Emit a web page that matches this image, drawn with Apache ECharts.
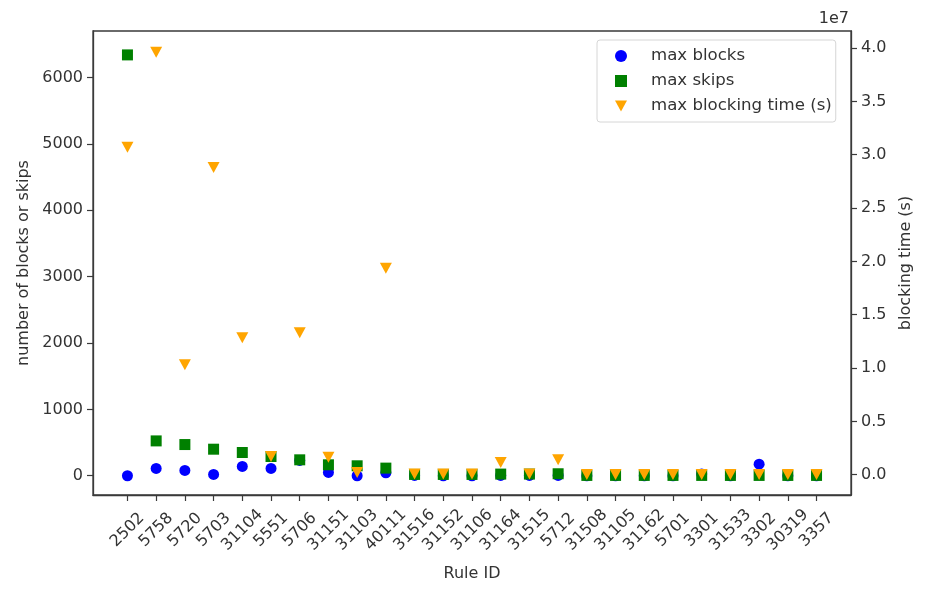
<!DOCTYPE html>
<html>
<head>
<meta charset="utf-8">
<script src="https://cdn.jsdelivr.net/npm/echarts@6/dist/echarts.min.js"></script>
<style>html,body{margin:0;padding:0;background:#fff;}#chart{width:925px;height:593px;}</style>
</head>
<body>
<div id="chart"></div>
<script>
const categories = ['2502','5758','5720','5703','31104','5551','5706','31151','31103','40111','31516','31152','31106','31164','31515','5712','31508','31105','31162','5701','3301','31533','3302','30319','3357'];
const maxBlocks = [0, 110, 80, 20, 140, 110, 230, 50, 0, 45, 5, 0, 0, 5, 5, 5, 0, 0, 0, 0, 25, 0, 175, 0, 0];
const maxSkips = [6340, 525, 470, 400, 350, 290, 240, 165, 150, 115, 20, 20, 20, 25, 25, 30, 5, 5, 5, 5, 5, 5, 5, 5, 5];
const maxBlockingTime = [30.7e6, 39.6e6, 10.3e6, 28.8e6, 12.85e6, 1.7e6, 13.3e6, 1.65e6, 0.2e6, 19.35e6, 0.08e6, 0.08e6, 0.08e6, 1.15e6, 0.08e6, 1.4e6, 0.03e6, 0.03e6, 0.03e6, 0.03e6, 0.03e6, 0.03e6, 0.03e6, 0.03e6, 0.03e6];
const leftTicks = [0, 1000, 2000, 3000, 4000, 5000, 6000];
const rightTicks = [0, 5e6, 10e6, 15e6, 20e6, 25e6, 30e6, 35e6, 40e6];

const idx = categories.map((c, i) => i);
const FONT = 'DejaVu Sans';
const TXT = '#333';
const AX = '#3a3a3a';

const chart = echarts.init(document.getElementById('chart'), null, {renderer: 'canvas'});
chart.setOption({
  animation: false,
  backgroundColor: '#fff',
  textStyle: {fontFamily: FONT},
  title: {text: '1e7', right: 76, top: 11, padding: 0,
    textStyle: {fontFamily: FONT, fontSize: 16, fontWeight: 'normal', color: TXT}},
  grid: {left: 93, right: 74, top: 31, bottom: 98, show: true, borderColor: AX, borderWidth: 1.3},
  legend: {
    left: 597, top: 40, orient: 'vertical',
    padding: [7, 4, 7, 18],
    itemGap: 7, itemWidth: 12, itemHeight: 12,
    borderColor: '#d6d6d6', borderWidth: 1, borderRadius: 3, backgroundColor: '#fff',
    textStyle: {fontFamily: FONT, fontSize: 16.6, color: TXT, lineHeight: 18, padding: [0, 0, 0, 19]},
    data: [
      {name: 'max blocks', icon: 'circle'},
      {name: 'max skips', icon: 'rect'},
      {name: 'max blocking time (s)', icon: 'path://M0,0L10,0L5,9Z'}
    ]
  },
  xAxis: {
    type: 'value', min: -1.2, max: 25.2,
    name: 'Rule ID', nameLocation: 'middle', nameGap: 71,
    nameTextStyle: {fontFamily: FONT, fontSize: 16, color: TXT},
    axisLine: {show: true, onZero: false, lineStyle: {color: AX, width: 1.3}},
    axisTick: {show: true, length: 6, customValues: idx, lineStyle: {color: AX, width: 1.2}},
    axisLabel: {customValues: idx, formatter: v => categories[Math.round(v)], rotate: 45,
      align: 'center', verticalAlign: 'middle', margin: 35,
      fontFamily: FONT, fontSize: 16, color: TXT},
    splitLine: {show: false}
  },
  yAxis: [
    {
      type: 'value', min: -290, max: 6700, position: 'left',
      name: 'number of blocks or skips', nameLocation: 'middle', nameGap: 61,
      nameTextStyle: {fontFamily: FONT, fontSize: 16, color: TXT},
      axisLine: {show: true, onZero: false, lineStyle: {color: AX, width: 1.3}},
      axisTick: {show: true, length: 6, customValues: leftTicks, lineStyle: {color: AX, width: 1.2}},
      axisLabel: {customValues: leftTicks, margin: 10, formatter: v => String(v),
        fontFamily: FONT, fontSize: 16, color: TXT},
      splitLine: {show: false}
    },
    {
      type: 'value', min: -1.9e6, max: 41.6e6, position: 'right',
      name: 'blocking time (s)', nameLocation: 'middle', nameGap: 41,
      nameTextStyle: {fontFamily: FONT, fontSize: 16, color: TXT},
      axisLine: {show: true, onZero: false, lineStyle: {color: AX, width: 1.3}},
      axisTick: {show: true, length: 6, customValues: rightTicks, lineStyle: {color: AX, width: 1.2}},
      axisLabel: {customValues: rightTicks, margin: 10, formatter: v => (v / 1e7).toFixed(1),
        fontFamily: FONT, fontSize: 16, color: TXT},
      splitLine: {show: false}
    }
  ],
  series: [
    {
      name: 'max blocks', type: 'scatter', yAxisIndex: 0,
      symbol: 'circle', symbolSize: 11,
      itemStyle: {color: '#0000ff', opacity: 1},
      data: maxBlocks.map((v, i) => [i, v])
    },
    {
      name: 'max skips', type: 'scatter', yAxisIndex: 0,
      symbol: 'rect', symbolSize: 11,
      itemStyle: {color: '#008000', opacity: 1},
      data: maxSkips.map((v, i) => [i, v])
    },
    {
      name: 'max blocking time (s)', type: 'scatter', yAxisIndex: 1,
      symbol: 'path://M0,0L10,0L5,9Z', symbolSize: [12, 11],
      itemStyle: {color: '#ffa500', opacity: 1},
      data: maxBlockingTime.map((v, i) => [i, v])
    }
  ]
});
</script>
</body>
</html>
